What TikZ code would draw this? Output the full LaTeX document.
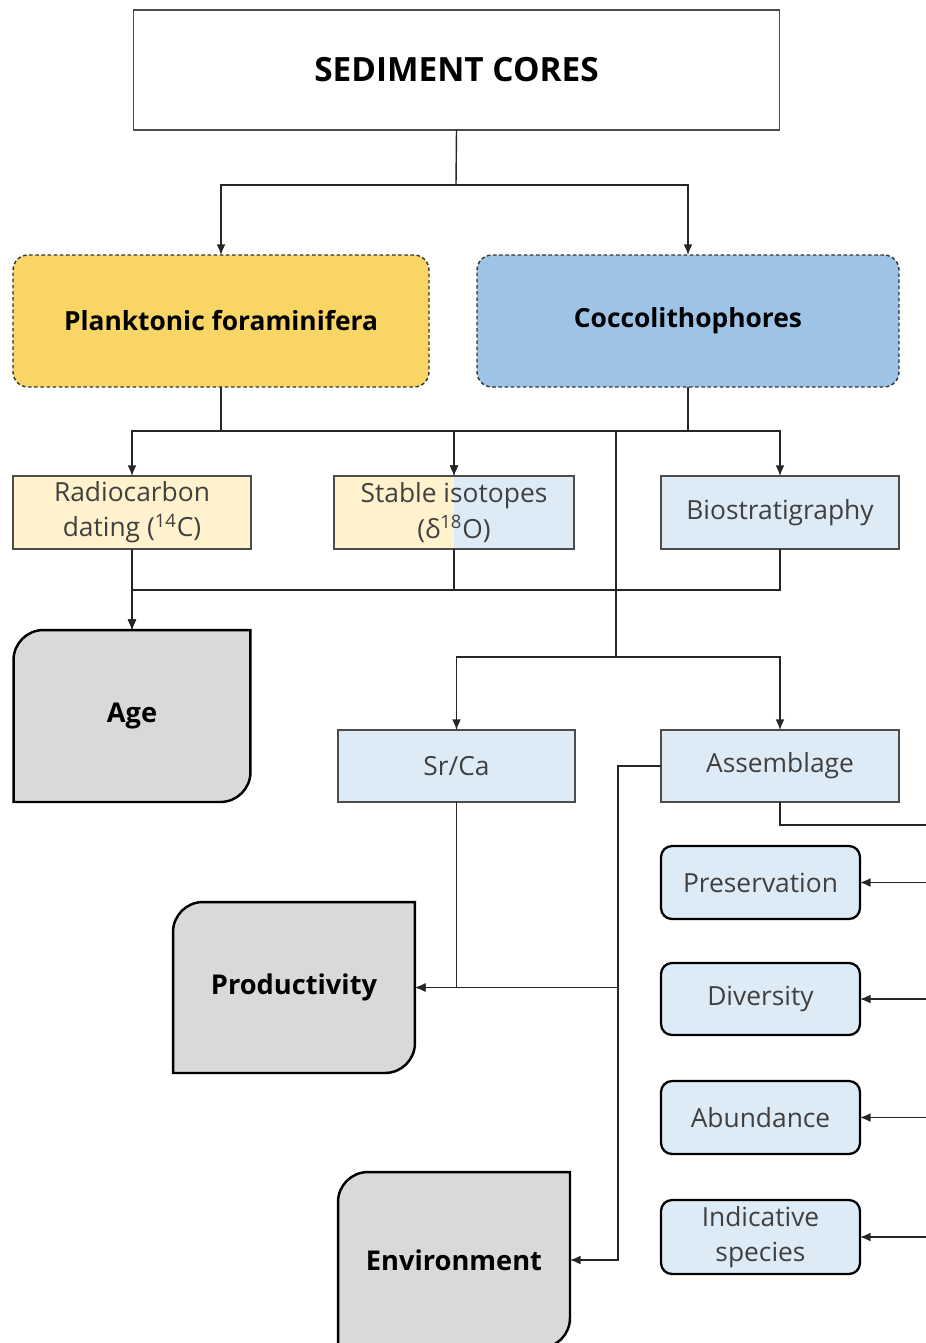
\documentclass[tikz,border=0pt]{standalone}
\usepackage{fontspec}
\setmainfont{Open Sans}
\usetikzlibrary{arrows.meta,backgrounds}
\definecolor{ForamClr}{RGB}{249,213,102}
\definecolor{CoccoClr}{RGB}{157,195,230}
\definecolor{ForamLight}{RGB}{255,242,204}
\definecolor{CoccoLight}{RGB}{221,235,247}
\definecolor{OutClr}{RGB}{217,217,217}

\newcommand{\outshape}[1]{%
  \filldraw[outline] (#1.south west) -- ([yshift=-0.6cm]#1.north west)
    arc[start angle=180,end angle=90,radius=0.6cm] -- (#1.north east)
    -- ([yshift=0.6cm]#1.south east)
    arc[start angle=0,end angle=-90,radius=0.6cm] -- cycle;}

\begin{document}
\begin{tikzpicture}[x=0.02cm,y=-0.02cm,
  every node/.style={outer sep=0pt,align=center,font=\fontsize{15}{20}\selectfont},
  line/.style={draw=black!85,line width=0.8pt},
  arr/.style={line,-{Latex[length=6pt,width=5pt]}},
  title/.style={draw=black!70,line width=0.6pt,minimum width=12.94cm,minimum height=2.4cm,
    font=\fontsize{19}{23}\selectfont\bfseries},
  group/.style={draw=black!80,dash pattern=on 2pt off 1.5pt,line width=0.8pt,
    rounded corners=0.3cm,minimum height=2.64cm,font=\fontsize{15}{19}\selectfont\bfseries},
  method/.style={draw=black!70,line width=0.7pt,fill=CoccoLight,inner sep=0pt,
    minimum width=4.76cm,minimum height=1.46cm,text=black!75},
  halfed/.style={path picture={\fill[ForamLight] (path picture bounding box.south west)
    rectangle (path picture bounding box.north);}},
  proxy/.style={draw=black,line width=1.3pt,rounded corners=0.22cm,fill=CoccoLight,inner sep=0pt,
    minimum width=3.98cm,minimum height=1.46cm,text=black!75},
  outcome/.style={minimum width=4.74cm,minimum height=3.44cm,
    font=\fontsize{15.5}{19}\selectfont\bfseries},
  outline/.style={draw=black,line width=1.4pt,fill=OutClr}]
\useasboundingbox (0,0) rectangle (926,1343);

\node[title] (cores) at (456.5,70) {SEDIMENT CORES};
\node[group,fill=ForamClr,minimum width=8.32cm] (foram) at (221,321) {Planktonic foraminifera};
\node[group,fill=CoccoClr,minimum width=8.44cm] (cocco) at (688,321) {Coccolithophores};

\node[method,fill=ForamLight] (radio) at (132,512.5) {Radiocarbon\\dating (\textsuperscript{14}C)};
\node[method,minimum width=4.8cm,halfed] (stable) at (454,512.5) {Stable isotopes\\(δ\textsuperscript{18}O)};
\node[method] (bio) at (780,512.5) {Biostratigraphy};

\node[outcome] (age) at (132,716) {Age};
\node[method,minimum width=4.74cm,minimum height=1.44cm] (srca) at (456.5,766) {Sr/Ca};
\node[method,minimum height=1.44cm] (assem) at (780,766) {Assemblage};

\node[proxy] (pres) at (760.5,882.5) {Preservation};
\node[proxy,minimum height=1.44cm] (div) at (760.5,999) {Diversity};
\node[proxy] (abund) at (760.5,1117.5) {Abundance};
\node[proxy,minimum height=1.48cm] (indic) at (760.5,1237) {Indicative\\species};

\node[outcome,minimum width=4.84cm,minimum height=3.42cm] (prod) at (294,987.5) {Productivity};
\node[outcome,minimum width=4.64cm,minimum height=3.52cm] (env) at (454,1260) {Environment};

\begin{scope}[on background layer]
\foreach \n in {age,prod,env} {\outshape{\n}}
\end{scope}

\coordinate (split) at (456,185);
\draw[line] (cores.south) -- (split);
\draw[arr] (split) -| (foram.north);
\draw[arr] (split) -| (cocco.north);

\draw[arr] (foram.south) -- ++(0,44) -| (radio.north);
\draw[arr] (foram.south) -- ++(0,44) -| (stable.north);
\draw[arr] (cocco.south) -- ++(0,44) -| (stable.north);
\draw[arr] (cocco.south) -- ++(0,44) -| (bio.north);

\coordinate (fork) at (616,431);
\coordinate (drop) at (616,657);
\draw[line] (fork) -- (drop);
\draw[arr] (drop) -| (srca.north);
\draw[arr] (drop) -| (assem.north);

\draw[arr] (radio.south) -- (age.north);
\draw[arr] (stable.south) -- ++(0,41) -| (age.north);
\draw[arr] (bio.south) -- ++(0,41) -| (age.north);

\draw[arr] (srca.south) |- (prod.east);
\draw[arr] (assem.west) -- ++(-43,0) |- (prod.east);
\draw[arr] (assem.west) -- ++(-43,0) |- (env.east);

\coordinate (rail) at (945,825);
\draw[line] (assem.south) |- (rail);
\foreach \n in {pres,div,abund,indic} \draw[arr] (rail) |- (\n.east);

\end{tikzpicture}
\end{document}
